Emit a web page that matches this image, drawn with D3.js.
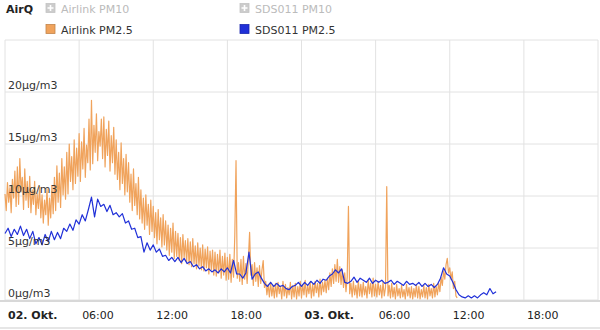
<!DOCTYPE html>
<html>
<head>
<meta charset="utf-8">
<script src="https://cdn.jsdelivr.net/npm/d3@7"></script>
<style>
  body { margin: 0; background: #fff; }
  svg { font-family: "DejaVu Sans", Verdana, sans-serif; }
  .grid line { stroke: #e2e2e2; }
</style>
</head>
<body>
<svg width="600" height="330"></svg>
<script>
// start of series and sampling steps (hours)
const START = new Date(2023, 9, 2, 0, 0);
const AIRLINK_STEP = 0.1;
const SDS_STEP = 0.25;

// Airlink PM2.5, µg/m3, one value every 6 min (one row = 1 hour)
const airlinkPM25 = [
  10.2, 8.6, 11.3, 9.4, 10.8, 8.4, 11.6, 9.8, 12.4, 9.0,
  12.8, 9.2, 13.6, 10.4, 11.8, 8.7, 12.6, 9.6, 11.4, 8.9,
  11.9, 8.4, 10.6, 9.2, 11.4, 8.2, 10.2, 8.8, 10.9, 7.9,
  10.1, 7.4, 9.6, 8.2, 10.7, 7.2, 9.8, 7.9, 11.0, 8.3,
  11.8, 8.6, 12.9, 9.4, 12.2, 8.9, 13.6, 10.1, 12.8, 9.7,
  14.2, 10.2, 15.0, 11.4, 13.8, 10.6, 15.4, 11.2, 14.6, 11.9,
  16.0, 11.4, 15.2, 12.6, 16.5, 11.8, 14.9, 13.2, 17.4, 12.5,
  19.2, 13.1, 16.8, 14.2, 17.9, 13.4, 16.2, 14.8, 17.4, 13.6,
  17.6, 12.8, 16.4, 13.9, 17.2, 12.4, 15.8, 13.2, 16.6, 12.1,
  15.4, 11.6, 14.2, 10.6, 15.1, 11.2, 13.6, 10.1, 14.0, 10.4,
  13.2, 9.4, 12.1, 8.6, 12.6, 9.1, 11.2, 8.2, 11.8, 7.8,
  10.6, 7.4, 9.8, 6.8, 10.1, 7.2, 9.2, 6.3, 9.6, 6.6,
  9.0, 6.0, 8.4, 5.4, 8.7, 5.8, 7.9, 5.1, 8.2, 5.3,
  7.6, 4.8, 7.2, 4.3, 6.9, 4.6, 7.4, 4.0, 6.6, 4.2,
  6.4, 3.8, 6.0, 3.5, 6.3, 4.1, 5.7, 3.6, 5.9, 3.4,
  5.6, 3.2, 5.9, 3.5, 5.2, 3.0, 5.5, 3.3, 5.0, 2.9,
  5.3, 2.8, 4.9, 3.1, 5.1, 2.5, 4.7, 2.9, 4.8, 2.4,
  4.6, 2.3, 4.4, 2.6, 4.8, 2.1, 4.2, 2.4, 4.5, 1.9,
  4.1, 2.0, 4.4, 1.7, 3.9, 2.2, 6.2, 13.4, 2.1, 3.6,
  1.8, 3.9, 1.5, 4.2, 2.0, 3.5, 1.6, 4.0, 6.5, 2.4,
  3.4, 1.4, 3.6, 1.8, 3.1, 1.3, 3.3, 1.6, 2.9, 3.8,
  1.2, 1.8, 0.5, 1.5, 0.3, 1.7, 0.4, 1.4, 0.2, 1.6,
  0.3, 1.7, 0.6, 1.3, 0.1, 1.8, 0.4, 1.5, 0.2, 1.2,
  0.5, 1.7, 0.1, 1.4, 0.3, 1.6, 0.1, 1.3, 0.4, 1.8,
  0.2, 1.5, 0.5, 1.9, 0.3, 1.4, 0.6, 1.7, 0.2, 1.5,
  0.4, 1.8, 0.7, 1.6, 0.3, 2.0, 0.5, 1.7, 0.8, 1.9,
  0.7, 2.1, 1.0, 2.6, 1.3, 3.0, 1.6, 3.4, 1.8, 3.9,
  1.7, 3.2, 1.5, 2.9, 1.2, 2.6, 0.8, 2.2, 9.0, 0.6,
  1.6, 0.3, 1.8, 0.5, 1.4, 0.2, 1.9, 0.4, 1.5, 0.3,
  1.7, 0.5, 1.3, 0.2, 1.9, 0.6, 1.6, 0.3, 2.1, 0.4,
  1.5, 0.3, 1.8, 0.5, 1.4, 0.2, 1.7, 0.4, 1.2, 10.9,
  0.4, 1.4, 0.2, 1.6, 0.3, 1.2, 0.1, 1.5, 0.4, 1.1,
  0.2, 1.4, 0.3, 1.0, 0.1, 1.5, 0.4, 1.2, 0.2, 1.3,
  0.1, 1.1, 0.3, 1.5, 0.2, 1.3, 0.1, 1.0, 0.3, 1.4,
  0.2, 1.2, 0.1, 1.5, 0.4, 1.1, 0.2, 1.6, 0.3, 1.3,
  0.5, 1.6, 0.8, 2.2, 1.4, 2.8, 2.0, 3.4, 4.0, 2.6,
  3.1, 2.0, 2.7, 1.1, 1.8, 0.4, 0.2
];

// SDS011 PM2.5, µg/m3, one value every 15 min (one group = 1 hour)
const sdsPM25 = [
  6.4, 6.9, 6.1, 6.8,  6.3, 7.1, 6.2, 6.8,  5.9, 6.6, 5.4, 6.0,  5.3, 6.3, 5.6, 6.6,
  5.8, 6.5, 5.9, 6.9,  6.6, 7.3, 6.7, 7.7,  7.3, 8.2, 7.6, 8.7,  9.9, 8.0, 9.7, 9.0,
  9.2, 8.5, 9.1, 8.2,  8.4, 8.0, 8.3, 7.4,  7.6, 6.8, 6.9, 6.0,  6.1, 4.6, 5.5, 4.8,
  5.3, 4.6, 4.9, 4.2,  4.3, 3.8, 4.1, 3.7,  4.1, 3.6, 4.0, 3.5,  3.7, 3.2, 3.4, 3.0,
  3.2, 2.8, 3.0, 2.7,  2.9, 2.6, 3.0, 2.7,  3.1, 2.6, 3.8, 2.5,  2.5, 2.1, 2.6, 4.6,
  2.0, 2.5, 2.7, 2.1,  1.6, 1.3, 1.7, 1.3,  1.6, 1.3, 1.4, 1.1,  1.0, 1.3, 1.4, 1.7,
  1.3, 1.7, 1.4, 1.8,  1.5, 1.9, 1.6, 2.0,  1.9, 2.3, 2.5, 2.9,  2.6, 3.0, 1.7, 1.6,
  1.8, 2.2, 1.7, 2.1,  1.9, 1.7, 2.1, 1.6,  1.9, 1.7, 1.9, 1.6,  1.7, 1.9, 1.5, 1.8,
  1.6, 1.4, 1.8, 1.5,  1.6, 1.4, 1.7, 1.3,  1.6, 1.3, 1.5, 1.2,  1.5, 2.1, 3.1, 2.5,
  2.3, 1.7, 1.0, 0.5,  0.3, 0.2, 0.4, 0.2,  0.4, 0.2, 0.5, 0.7,  0.5, 1.1, 0.6, 0.8
];

const yTicks = [0, 5, 10, 15, 20, 25];
const legendItems = [
  {name: "Airlink PM10", color: "#ccc", visible: false},
  {name: "SDS011 PM10", color: "#ccc", visible: false},
  {name: "Airlink PM2.5", color: "#f0a35c", visible: true},
  {name: "SDS011 PM2.5", color: "#2030d8", visible: true}
];

const svg = d3.select("svg");
const plotLeft = 5, plotRight = 598, plotTop = 40, plotBottom = 300;

const x = d3.scaleTime()
  .domain([START, d3.timeHour.offset(START, 48)])
  .range([plotLeft, plotRight]);
const y = d3.scaleLinear().domain([0, 25]).range([plotBottom, plotTop]);

const toPoints = (vals, step) => vals.map((v, i) => ({
  t: new Date(START.getTime() + i * step * 3600e3), v: v
}));

// vertical grid
const xTicks = d3.timeHour.every(6).range(START, d3.timeHour.offset(START, 49));
svg.append("g").attr("class", "grid")
  .selectAll("line").data(xTicks).join("line")
  .attr("x1", d => x(d)).attr("x2", d => x(d))
  .attr("y1", plotTop).attr("y2", plotBottom);

// horizontal grid
svg.append("g").attr("class", "grid")
  .selectAll("line").data(yTicks).join("line")
  .attr("x1", plotLeft).attr("x2", plotRight)
  .attr("y1", d => y(d)).attr("y2", d => y(d));

// x axis line
svg.append("line")
  .attr("x1", 0).attr("x2", 600).attr("y1", plotBottom + 1).attr("y2", plotBottom + 1)
  .attr("stroke", "#d8d8d8").attr("stroke-width", 2);
svg.append("line")
  .attr("x1", 0).attr("x2", 600).attr("y1", 328).attr("y2", 328)
  .attr("stroke", "#e6e6e6").attr("stroke-width", 2);

const fmt = d => d.getHours() === 0 ? d3.timeFormat("%d. ")(d) + "Okt." : d3.timeFormat("%H:%M")(d);
svg.append("g").selectAll("text").data(xTicks.slice(0, 8)).join("text")
  .attr("x", d => x(d) + 3).attr("y", 319)
  .attr("fill", "#222").attr("font-size", 11)
  .attr("font-weight", d => d.getHours() === 0 ? "bold" : "normal")
  .text(fmt);

// series
const line = d3.line().x(d => x(d.t)).y(d => y(d.v));
svg.append("path")
  .datum(toPoints(airlinkPM25, AIRLINK_STEP))
  .attr("fill", "none").attr("stroke", legendItems[2].color)
  .attr("stroke-width", 1.2).attr("stroke-linejoin", "round")
  .attr("d", line);
svg.append("path")
  .datum(toPoints(sdsPM25, SDS_STEP))
  .attr("fill", "none").attr("stroke", legendItems[3].color)
  .attr("stroke-width", 1.2).attr("stroke-linejoin", "round")
  .attr("d", line);

// y labels (drawn over the series)
svg.append("g").selectAll("text").data(yTicks.slice(0, 5)).join("text")
  .attr("x", 8).attr("y", d => y(d) - 3)
  .attr("fill", "#333").attr("font-size", 11)
  .text(d => d + "µg/m3");

// legend
svg.append("text").attr("x", 6).attr("y", 13)
  .attr("font-size", 11).attr("font-weight", "bold").attr("fill", "#222")
  .text("AirQ");

const lg = svg.append("g").selectAll("g").data(legendItems).join("g")
  .attr("transform", (d, i) => `translate(${i % 2 ? 240 : 46},${i < 2 ? 3.5 : 24.5})`);
lg.append("rect")
  .attr("width", 9).attr("height", 9)
  .attr("fill", d => d.color)
  .attr("stroke", d => d.visible ? d3.color(d.color).darker(0.6) : "#c4c4c4")
  .attr("stroke-width", 0.8);
lg.filter(d => !d.visible).append("path")
  .attr("d", "M4.5,1.5V7.5M1.5,4.5H7.5")
  .attr("stroke", "#fff").attr("stroke-width", 1.6);
lg.append("text")
  .attr("x", 15).attr("y", 9.5)
  .attr("font-size", 11)
  .attr("fill", d => d.visible ? "#333" : "#bbb")
  .text(d => d.name);
</script>
</body>
</html>
